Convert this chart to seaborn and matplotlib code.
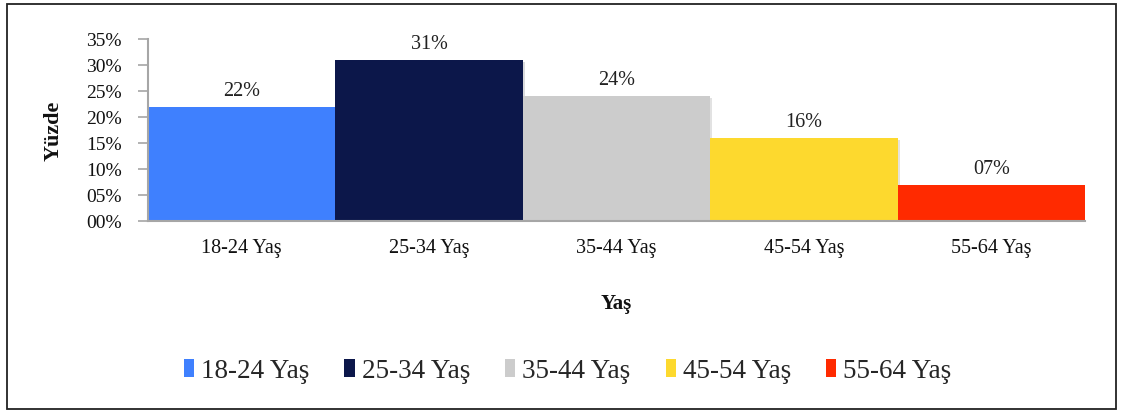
import matplotlib
matplotlib.use("Agg")
import matplotlib.pyplot as plt
import matplotlib.patheffects as pe
from matplotlib.patches import Rectangle
import seaborn as sns
import pandas as pd

# Age groups and their share (%)
age_groups = ["18-24 Yaş", "25-34 Yaş", "35-44 Yaş", "45-54 Yaş", "55-64 Yaş"]
shares = [22, 31, 24, 16, 7]
bar_colors = ["#3F80FE", "#0C174A", "#CCCCCC", "#FDD92E", "#FF2A00"]
y_ticks = [0, 5, 10, 15, 20, 25, 30, 35]

sns.set_theme(style="white")
plt.rcParams["font.family"] = ["Liberation Serif", "DejaVu Serif"]

df = pd.DataFrame({"grup": age_groups, "oran": shares})

fig = plt.figure(figsize=(11.24, 4.14), dpi=100)
ax = fig.add_axes([148 / 1124, 1 - 222 / 414, (1085 - 148) / 1124, (222 - 40) / 414])

sns.barplot(data=df, x="grup", y="oran", hue="grup", palette=bar_colors,
            width=1.0, legend=False, saturation=1, ax=ax)

for p in ax.patches:
    p.set_linewidth(0)
    p.set_path_effects([pe.SimplePatchShadow(offset=(1.5, -1.5), alpha=0.15),
                        pe.Normal()])

for cont in ax.containers:
    ax.bar_label(cont, labels=[f"{int(v):02d}%" for v in cont.datavalues],
                 padding=5, fontsize=14.5, color="#222222")

ax.set_xlim(-0.5, 4.5)
ax.set_ylim(0, 35)
ax.set_yticks(y_ticks)
ax.set_yticklabels([f"{t:02d}%" for t in y_ticks], fontsize=14, color="#111111")
ax.tick_params(axis="y", length=7, width=1.2, color="#A6A6A6", pad=12, left=True)
ax.tick_params(axis="x", length=0, pad=12, labelsize=14.5, labelcolor="#111111")

for side in ["top", "right"]:
    ax.spines[side].set_visible(False)
for side in ["left", "bottom"]:
    ax.spines[side].set_color("#A6A6A6")
    ax.spines[side].set_linewidth(1.5)

ax.set_ylabel("Yüzde", fontsize=16, fontweight="bold", color="#111111")
ax.yaxis.set_label_coords(-0.101, 0.5)
ax.yaxis.label.set_verticalalignment("center")
ax.set_xlabel("Yaş", fontsize=15, fontweight="bold", color="#111111")
ax.xaxis.set_label_coords(0.5, -0.395)

handles = [Rectangle((0, 0), 1, 1, facecolor=c, edgecolor="none") for c in bar_colors]
fig.legend(handles, age_groups, loc="center", bbox_to_anchor=(0.505, 1 - 372 / 414),
           ncol=5, frameon=False, fontsize=19.5, handlelength=0.38, handleheight=0.6,
           handletextpad=0.25, columnspacing=1.3)

# Outer frame
fig.patches.append(Rectangle((7 / 1124, 1 - 410 / 414), (1116 - 7) / 1124, (410 - 5) / 414,
                             transform=fig.transFigure, fill=False,
                             edgecolor="#222222", linewidth=1.3))

fig.savefig("out.png", dpi=100)
